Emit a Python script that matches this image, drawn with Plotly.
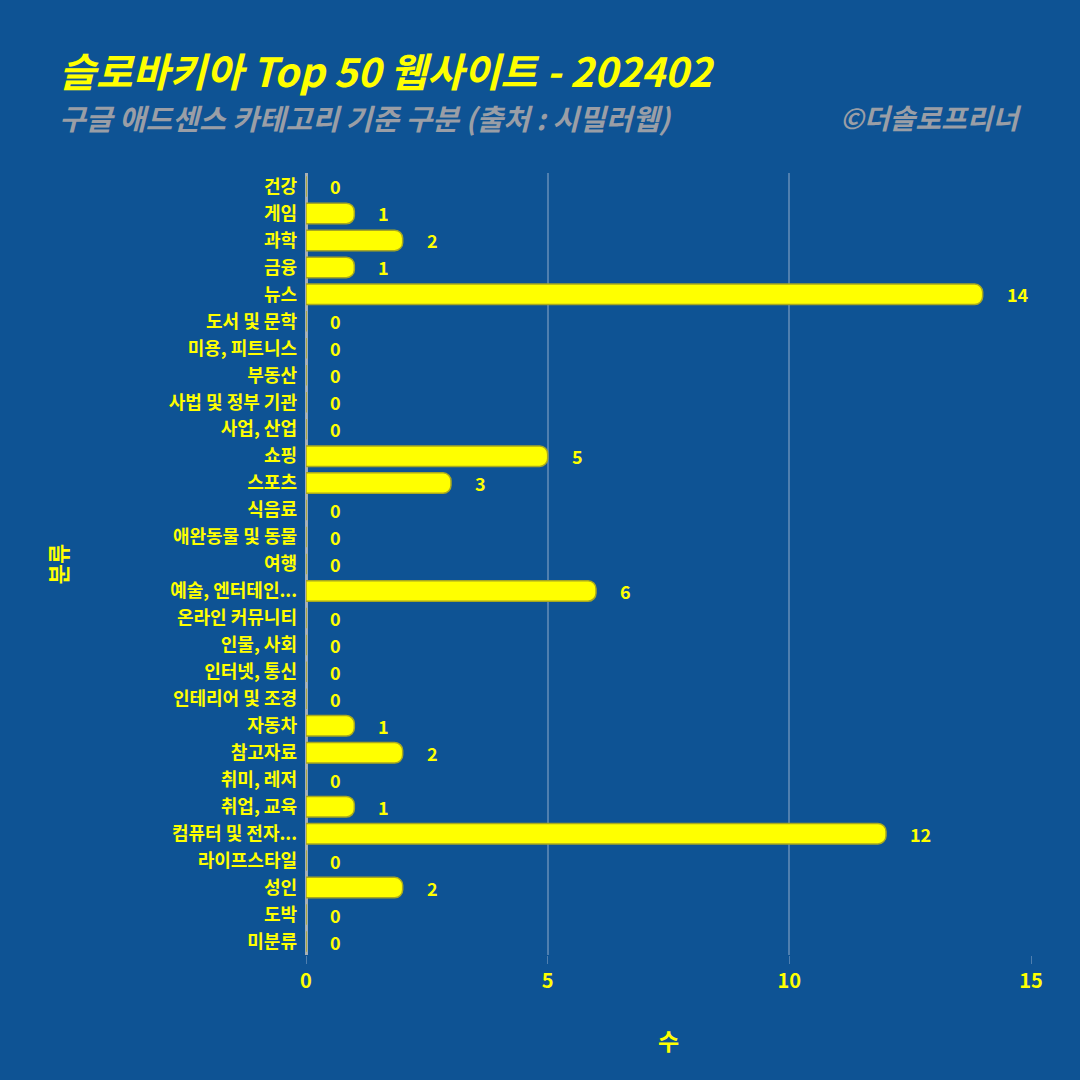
import plotly.graph_objects as go

categories = ["건강", "게임", "과학", "금융", "뉴스", "도서 및 문학", "미용, 피트니스", "부동산",
              "사법 및 정부 기관", "사업, 산업", "쇼핑", "스포츠", "식음료", "애완동물 및 동물", "여행",
              "예술, 엔터테인...", "온라인 커뮤니티", "인물, 사회", "인터넷, 통신", "인테리어 및 조경",
              "자동차", "참고자료", "취미, 레저", "취업, 교육", "컴퓨터 및 전자...", "라이프스타일",
              "성인", "도박", "미분류"]
values = [0, 1, 2, 1, 14, 0, 0, 0, 0, 0, 5, 3, 0, 0, 0, 6, 0, 0, 0, 0, 1, 2, 0, 1, 12, 0, 2, 0, 0]
x_ticks = [0, 5, 10, 15]

BG = "#0E5394"
YEL = "#FFFF00"
GRAY = "#9A9EA6"
FONT = "Noto Sans CJK KR"

L, R, T, B = 306, 49, 173, 125
PW, PH = 1080 - L - R, 1080 - T - B

fig = go.Figure()
fig.add_trace(go.Bar(
    x=values, y=categories, orientation="h",
    marker=dict(color=YEL, line=dict(color="#A8A820", width=1.5), cornerradius=8),
    hoverinfo="skip",
))

annotations = []
for c, v in zip(categories, values):
    annotations.append(dict(x=v, y=c, xref="x", yref="y", text=str(v), showarrow=False,
                            xanchor="left", xshift=22,
                            font=dict(family=FONT, size=18, color=YEL, weight="bold")))

annotations += [
    dict(text="슬로바키아 Top 50 웹사이트 - 202402", xref="paper", yref="paper",
         x=(57 - L) / PW, y=1 + (T - 70) / PH, xanchor="left", yanchor="middle", showarrow=False,
         font=dict(family=FONT, size=40, color=YEL, weight="bold", style="italic")),
    dict(text="구글 애드센스 카테고리 기준 구분 (출처 : 시밀러웹)", xref="paper", yref="paper",
         x=(57 - L) / PW, y=1 + (T - 117) / PH, xanchor="left", yanchor="middle", showarrow=False,
         font=dict(family=FONT, size=29, color=GRAY, weight="bold", style="italic")),
    dict(text="©더솔로프리너", xref="paper", yref="paper",
         x=(1024 - L) / PW, y=1 + (T - 117) / PH, xanchor="right", yanchor="middle", showarrow=False,
         font=dict(family=FONT, size=28, color=GRAY, weight="bold", style="italic")),
]

fig.update_layout(
    width=1080, height=1080,
    paper_bgcolor=BG, plot_bgcolor=BG,
    margin=dict(l=L, r=R, t=T, b=B),
    bargap=0.24,
    showlegend=False,
    annotations=annotations,
    xaxis=dict(
        range=[0, 15], tickvals=x_ticks, ticktext=[str(t) for t in x_ticks],
        showgrid=True, gridcolor="rgba(200,210,225,0.35)", gridwidth=1.5,
        zeroline=True, zerolinecolor="#A7AFB5", zerolinewidth=3,
        ticks="outside", ticklen=8, tickcolor="rgba(200,210,225,0.35)",
        tickfont=dict(family=FONT, size=20, color=YEL, weight="bold"),
        title=dict(text="수", standoff=40, font=dict(family=FONT, size=23, color=YEL, weight="bold")),
        showline=False, fixedrange=True,
    ),
    yaxis=dict(
        categoryorder="array", categoryarray=categories,
        tickmode="array", tickvals=categories, ticktext=categories,
        range=[28.5, -0.5],
        tickfont=dict(family=FONT, size=18, color=YEL, weight="bold"),
        ticklabelstandoff=8,
        title=dict(text="분류", standoff=95, font=dict(family=FONT, size=22, color=YEL, weight="bold")),
        showgrid=False, showline=False,
    ),
)
fig.write_html("out.html")
